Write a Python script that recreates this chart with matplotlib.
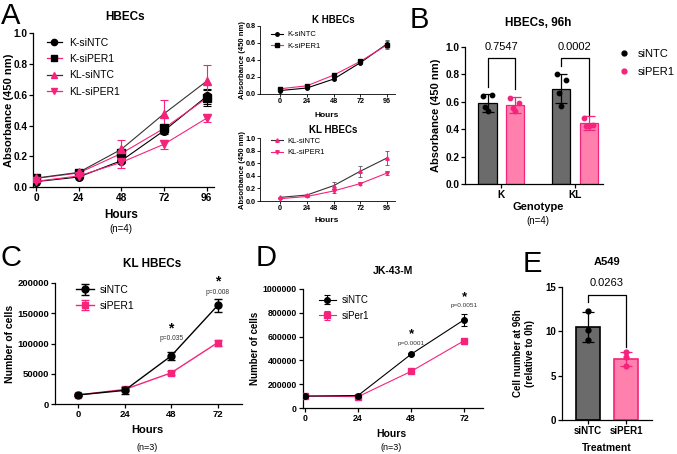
import matplotlib
matplotlib.use('Agg')
import matplotlib.pyplot as plt
from matplotlib.lines import Line2D
import numpy as np

plt.rcParams['font.family'] = ['Liberation Sans', 'DejaVu Sans']
plt.rcParams['axes.linewidth'] = 0.9
plt.rcParams['xtick.major.width'] = 0.9
plt.rcParams['ytick.major.width'] = 0.9
plt.rcParams['xtick.major.size'] = 3
plt.rcParams['ytick.major.size'] = 3

# ---------------- data ----------------
hours_a = [0, 24, 48, 72, 96]
k_sintc = [0.035, 0.065, 0.171, 0.366, 0.589]
k_sintc_err = [0.005, 0.006, 0.015, 0.02, 0.05]
k_siper1 = [0.056, 0.091, 0.218, 0.381, 0.578]
k_siper1_err = [0.006, 0.012, 0.03, 0.025, 0.05]
kl_sintc = [0.058, 0.095, 0.245, 0.476, 0.688]
kl_sintc_err = [0.005, 0.008, 0.06, 0.088, 0.108]
kl_siper1 = [0.037, 0.072, 0.160, 0.278, 0.447]
kl_siper1_err = [0.004, 0.006, 0.036, 0.028, 0.027]

genotypes = ['K', 'KL']
b_sintc_mean = [0.59, 0.695]
b_sintc_sd = [0.062, 0.108]
b_siper1_mean = [0.575, 0.442]
b_siper1_sd = [0.057, 0.05]
b_sintc_pts = [[0.64, 0.65, 0.56, 0.53], [0.80, 0.76, 0.66, 0.57]]
b_siper1_pts = [[0.63, 0.59, 0.55, 0.53], [0.48, 0.43, 0.42, 0.42]]
b_pvals = ['0.7547', '0.0002']

hours_c = [0, 24, 48, 72]
c_sintc = [15000, 22500, 79500, 163000]
c_sintc_err = [1500, 6000, 6000, 11000]
c_siper1 = [15000, 24000, 51500, 101500]
c_siper1_err = [1500, 2500, 3000, 5000]
c_p = ['p=0.035', 'p=0.008']

hours_d = [0, 24, 48, 72]
d_sintc = [100000, 105000, 452000, 742000]
d_sintc_err = [5000, 8000, 10000, 50000]
d_siper1 = [100000, 95000, 308000, 566000]
d_siper1_err = [4000, 6000, 8000, 10000]
d_p = ['p=0.0001', 'p=0.0051']

e_groups = ['siNTC', 'siPER1']
e_mean = [10.5, 6.85]
e_sd = [1.7, 0.8]
e_pts = [[12.3, 10.2, 9.0], [7.7, 7.1, 6.1]]
e_pval = '0.0263'

# ---------------- style ----------------
PINK = '#F5237C'
BAR_PINK = '#FF80AD'
GRAY = '#6B6B6B'
W, H = 677, 454

fig = plt.figure(figsize=(W / 100, H / 100), dpi=100)


def ax_px(l, t, r, b):
    ax = fig.add_axes([l / W, 1 - b / H, (r - l) / W, (b - t) / H])
    ax._pxbox = (l, t, r, b)
    return ax


def ftext(x, y, s, **kw):
    fig.text(x / W, 1 - y / H, s, **kw)


def ylab(ax, s, xpx, fs):
    ax.set_ylabel(s, fontsize=fs, fontweight='bold', ha='center', va='center')
    l, t, r, b = ax._pxbox
    ax.yaxis.set_label_coords(xpx / W, 1 - (t + b) / 2 / H, transform=fig.transFigure)


def style(ax, fs, pad=1.5):
    ax.spines['top'].set_visible(False)
    ax.spines['right'].set_visible(False)
    ax.tick_params(labelsize=fs, pad=pad)
    for lab in ax.get_xticklabels() + ax.get_yticklabels():
        lab.set_fontweight('bold')


def fig_legend(ax, handles, labels, x, y, fs, **kw):
    leg = ax.legend(handles, labels, loc='upper left',
                    bbox_to_anchor=(x / W, 1 - y / H),
                    bbox_transform=fig.transFigure, frameon=False,
                    fontsize=fs, borderpad=0, borderaxespad=0, **kw)
    return leg


# ---------------- Panel A main ----------------
axA = ax_px(33, 33.3, 214, 187)
series = [
    (k_sintc, k_sintc_err, 'k', 'k', 'o', 'K-siNTC'),
    (k_siper1, k_siper1_err, PINK, 'k', 's', 'K-siPER1'),
    (kl_sintc, kl_sintc_err, '#333333', PINK, '^', 'KL-siNTC'),
    (kl_siper1, kl_siper1_err, PINK, PINK, 'v', 'KL-siPER1'),
]
handles = []
for vals, err, lc, mc, mk, lab in series:
    axA.errorbar(hours_a, vals, yerr=err, color=lc, lw=0.8, ecolor=mc,
                 elinewidth=0.8, capsize=3, capthick=0.8,
                 marker=mk, ms=5.5, mfc=mc, mec=mc, zorder=3)
    handles.append(Line2D([0], [0], color=lc, lw=0.9, marker=mk, ms=4.5,
                          mfc=mc, mec=mc))
axA.set_xlim(-1.7, 100.2)
axA.set_ylim(0, 1.0)
axA.set_xticks(hours_a)
axA.set_yticks([0, 0.2, 0.4, 0.6, 0.8, 1.0])
axA.set_yticklabels(['0.0', '0.2', '0.4', '0.6', '0.8', '1.0'])
style(axA, 7.3, pad=1)
ylab(axA, 'Absorbance (450 nm)', 9, 8)
fig_legend(axA, handles, [s[5] for s in series], 46.5, 37.5, 7.5,
           handlelength=1.45, handletextpad=0.7, labelspacing=0.62)
ftext(125, 17, 'HBECs', fontsize=8.5, fontweight='bold', ha='center', va='center')
ftext(121, 215, 'Hours', fontsize=8.5, fontweight='bold', ha='center', va='center')
ftext(121, 229, '(n=4)', fontsize=7, ha='center', va='center')

# ---------------- Panel A small plots ----------------
def small(ax, sets, ylim, yticks, title, ty, legy):
    hs = []
    for vals, err, lc, mc, mk, lab in sets:
        ax.errorbar(hours_a, vals, yerr=err, color=lc, lw=0.8, ecolor='#555555',
                    elinewidth=0.6, capsize=1.5, capthick=0.6,
                    marker=mk, ms=2.5, mfc=mc, mec=mc, zorder=3)
        hs.append(Line2D([0], [0], color=lc, lw=0.8, marker=mk, ms=2.5,
                         mfc=mc, mec=mc))
    ax.set_xlim(-18, 103)
    ax.set_ylim(*ylim)
    ax.set_xticks(hours_a)
    ax.set_yticks(yticks)
    ax.set_yticklabels(['%.1f' % v for v in yticks])
    ax.tick_params(length=2, width=0.6)
    for s in ax.spines.values():
        s.set_linewidth(0.6)
    style(ax, 5.2, pad=1.2)
    ylab(ax, 'Absorbance (450 nm)', 242, 5.5)
    fig_legend(ax, hs, [s[5] for s in sets], 271, legy, 5.5,
               handlelength=1.6, handletextpad=0.6, labelspacing=0.55)
    ftext(333, ty, title, fontsize=7, fontweight='bold', ha='center', va='center')


axK = ax_px(260, 26, 395, 93.5)
small(axK, [(k_sintc, k_sintc_err, 'k', 'k', 'o', 'K-siNTC'),
            (k_siper1, k_siper1_err, PINK, 'k', 's', 'K-siPER1')],
      (0, 0.8), [0, 0.2, 0.4, 0.6, 0.8], 'K HBECs', 20, 31)
ftext(327, 115, 'Hours', fontsize=6, fontweight='bold', ha='center', va='center')

axKL = ax_px(260, 138.3, 395, 201)
small(axKL, [(kl_sintc, kl_sintc_err, '#333333', PINK, '^', 'KL-siNTC'),
             (kl_siper1, kl_siper1_err, PINK, PINK, 'v', 'KL-siPER1')],
      (0, 1.0), [0, 0.2, 0.4, 0.6, 0.8, 1.0], 'KL HBECs', 130, 137.5)
ftext(327, 221, 'Hours', fontsize=6, fontweight='bold', ha='center', va='center')

# ---------------- Panel B ----------------
axB = ax_px(465, 46.7, 603, 184)
xg = np.arange(len(genotypes))
off = 0.185
bw = 0.245
jit = [-0.06, 0.06, -0.03, 0.0]
axB.bar(xg - off, b_sintc_mean, width=bw, color=GRAY, edgecolor='k', lw=0.9, zorder=2)
axB.bar(xg + off, b_siper1_mean, width=bw, color=BAR_PINK, edgecolor=PINK, lw=0.9, zorder=2)
axB.errorbar(xg - off, b_sintc_mean, yerr=b_sintc_sd, fmt='none', ecolor='k',
             elinewidth=0.9, capsize=4, capthick=0.9, zorder=3)
axB.errorbar(xg + off, b_siper1_mean, yerr=b_siper1_sd, fmt='none', ecolor=PINK,
             elinewidth=0.9, capsize=4, capthick=0.9, zorder=3)
for i in range(len(genotypes)):
    axB.scatter(xg[i] - off + np.array(jit), b_sintc_pts[i], s=10, color='k', zorder=4)
    axB.scatter(xg[i] + off + np.array(jit), b_siper1_pts[i], s=10, color=PINK, zorder=4)
legs = [(0.71, 0.69), (0.857, 0.50)]
for i in range(len(genotypes)):
    x0, x1 = xg[i] - off, xg[i] + off
    axB.plot([x0, x0, x1, x1], [legs[i][0], 0.92, 0.92, legs[i][1]], color='k',
             lw=0.9, clip_on=False)
    axB.text(xg[i], 1.0, b_pvals[i], ha='center', va='center', fontsize=8)
axB.set_xlim(-0.49, 1.38)
axB.set_ylim(0, 1.0)
axB.set_xticks(xg)
axB.set_xticklabels(genotypes)
axB.set_yticks([0, 0.2, 0.4, 0.6, 0.8, 1.0])
axB.set_yticklabels(['0.0', '0.2', '0.4', '0.6', '0.8', '1.0'])
style(axB, 7.3, pad=1)
ylab(axB, 'Absorbance (450 nm)', 436, 8)
ftext(538, 207, 'Genotype', fontsize=8, fontweight='bold', ha='center', va='center')
ftext(538, 221, '(n=4)', fontsize=7, ha='center', va='center')
ftext(538, 23, 'HBECs, 96h', fontsize=8.5, fontweight='bold', ha='center', va='center')
hB = [Line2D([0], [0], ls='none', marker='o', ms=3.5, color='k'),
      Line2D([0], [0], ls='none', marker='o', ms=3.5, color=PINK)]
fig_legend(axB, hB, ['siNTC', 'siPER1'], 618, 49, 8,
           handlelength=1.0, handletextpad=0.8, labelspacing=0.75)

# ---------------- Panel C ----------------
axC = ax_px(55, 283, 242, 404)
axC.errorbar(hours_c, c_sintc, yerr=c_sintc_err, color='k', lw=1.0, marker='o', ms=5,
             capsize=3, capthick=1.0, elinewidth=1.0, zorder=4, label='siNTC')
axC.errorbar(hours_c, c_siper1, yerr=c_siper1_err, color=PINK, lw=1.0, marker='s', ms=5,
             capsize=3, capthick=1.0, elinewidth=1.0, zorder=3, label='siPER1')
axC.set_xlim(-11.9, 84.5)
axC.set_ylim(0, 200000)
axC.set_xticks(hours_c)
axC.set_yticks([0, 50000, 100000, 150000, 200000])
axC.set_yticklabels(['0', '50000', '100000', '150000', '200000'])
style(axC, 6.8)
ylab(axC, 'Number of cells', 10, 7.5)
for h, ys, yp, p in [(48, 113800, 108000, c_p[0]), (72, 190800, 185000, c_p[1])]:
    axC.text(h, ys, '*', ha='center', va='bottom', fontsize=10, fontweight='bold')
    axC.text(h, yp, p, ha='center', va='center', fontsize=4.8, color='#333333')
hC, lC = axC.get_legend_handles_labels()
fig_legend(axC, hC, lC, 76, 285, 7.5, handlelength=1.7, handletextpad=0.6,
           labelspacing=0.55)
ftext(152, 264, 'KL HBECs', fontsize=8.5, fontweight='bold', ha='center', va='center')
ftext(147, 430, 'Hours', fontsize=8, fontweight='bold', ha='center', va='center')
ftext(147, 447, '(n=3)', fontsize=6.5, ha='center', va='center')

# ---------------- Panel D ----------------
axD = ax_px(303, 289, 483, 408)
axD.errorbar(hours_d, d_sintc, yerr=d_sintc_err, color='k', lw=0.8, marker='o', ms=4,
             capsize=2.5, capthick=0.8, elinewidth=0.8, zorder=4, label='siNTC')
axD.errorbar(hours_d, d_siper1, yerr=d_siper1_err, color=PINK, lw=0.8, marker='s', ms=4,
             capsize=2.5, capthick=0.8, elinewidth=0.8, zorder=3, label='siPer1')
axD.set_xlim(-0.9, 80.5)
axD.set_ylim(0, 1000000)
axD.set_xticks(hours_d)
axD.set_yticks([0, 200000, 400000, 600000, 800000, 1000000])
axD.set_yticklabels(['0', '200000', '400000', '600000', '800000', '1000000'])
style(axD, 6.3)
ylab(axD, 'Number of cells', 255, 7)
for h, ys, yp, p in [(48, 570000, 546000, d_p[0]), (72, 884000, 860000, d_p[1])]:
    axD.text(h, ys, '*', ha='center', va='bottom', fontsize=9.5, fontweight='bold')
    axD.text(h, yp, p, ha='center', va='center', fontsize=4.6, color='#333333')
hD, lD = axD.get_legend_handles_labels()
fig_legend(axD, hD, lD, 319, 295, 7, handlelength=1.7, handletextpad=0.6,
           labelspacing=0.6)
ftext(393, 271, 'JK-43-M', fontsize=7.5, fontweight='bold', ha='center', va='center')
ftext(391, 434, 'Hours', fontsize=7.5, fontweight='bold', ha='center', va='center')
ftext(391, 447, '(n=3)', fontsize=6.5, ha='center', va='center')

# ---------------- Panel E ----------------
axE = ax_px(562, 287, 652, 420)
xe = np.arange(len(e_groups))
ejit = [0.0, 0.0, 0.0]
axE.bar(xe, e_mean, width=0.63, color=[GRAY, BAR_PINK], edgecolor=['k', PINK], lw=1.2,
        zorder=2)
for i, c in enumerate(['k', PINK]):
    axE.errorbar(xe[i], e_mean[i], yerr=e_sd[i], fmt='none', ecolor=c, elinewidth=0.9,
                 capsize=4, capthick=0.9, zorder=3)
    axE.scatter(xe[i] + np.array(ejit), e_pts[i], s=12, color=c, zorder=4)
axE.plot([0, 0, 1, 1], [13.3, 14.06, 14.06, 8.25], color='k', lw=0.9, clip_on=False)
axE.text(0.5, 15.4, e_pval, ha='center', va='center', fontsize=8)
axE.set_xlim(-0.68, 1.68)
axE.set_ylim(0, 15)
axE.set_xticks(xe)
axE.set_xticklabels(e_groups)
axE.set_yticks([0, 5, 10, 15])
style(axE, 7)
ylab(axE, 'Cell number at 96h\n(relative to 0h)', 524, 7)
ftext(607, 262, 'A549', fontsize=8, fontweight='bold', ha='center', va='center')
ftext(607, 448, 'Treatment', fontsize=7.5, fontweight='bold', ha='center', va='center')

# ---------------- Panel letters ----------------
for x, y, s in [(1, 24, 'A'), (410, 28, 'B'), (1, 266, 'C'), (256, 266, 'D'), (523, 272, 'E')]:
    ftext(x, y, s, fontsize=21, ha='left', va='baseline')

fig.savefig('out.png', dpi=100)
